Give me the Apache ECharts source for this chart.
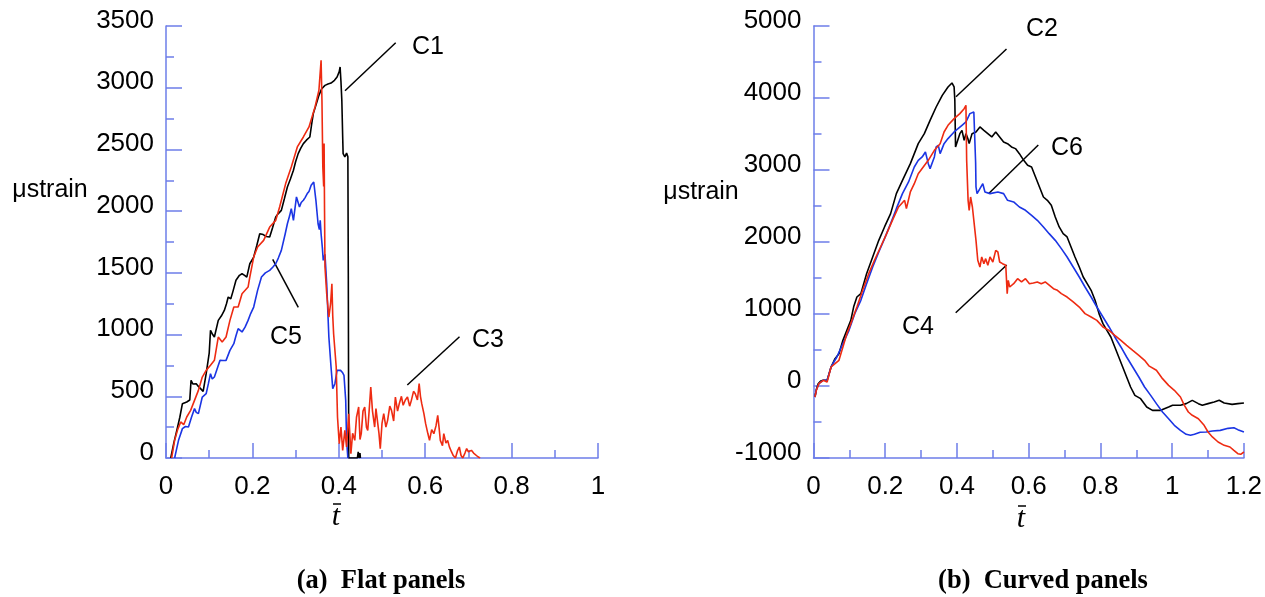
<!DOCTYPE html>
<html>
<head>
<meta charset="utf-8">
<script src="https://cdn.jsdelivr.net/npm/echarts@6/dist/echarts.min.js"></script>
<style>
  html, body { margin: 0; padding: 0; background: #fff; }
  #chart { width: 1265px; height: 597px; }
</style>
</head>
<body>
<div id="chart"></div>
<script>
// 数据: [t, microstrain]
// (a) flat panels
const c1 = [[0.011,0],[0.018,120],[0.025,224],[0.032,330],[0.038,440],[0.048,454],[0.055,470],[0.058,630],[0.062,600],[0.07,602],[0.075,580],[0.08,562],[0.086,540],[0.093,683],[0.1,850],[0.103,1034],[0.108,1000],[0.112,980],[0.121,1115],[0.128,1150],[0.135,1196],[0.14,1250],[0.144,1304],[0.15,1290],[0.155,1350],[0.162,1440],[0.17,1480],[0.176,1493],[0.182,1480],[0.187,1466],[0.194,1574],[0.203,1628],[0.21,1720],[0.217,1817],[0.225,1810],[0.232,1795],[0.24,1790],[0.247,1870],[0.254,1953],[0.26,1980],[0.267,2006],[0.274,2100],[0.281,2196],[0.288,2260],[0.295,2331],[0.3,2400],[0.306,2466],[0.312,2510],[0.318,2547],[0.325,2575],[0.333,2601],[0.337,2700],[0.341,2790],[0.348,2870],[0.354,2938],[0.36,2990],[0.368,3019],[0.375,3030],[0.382,3038],[0.39,3060],[0.396,3087],[0.401,3130],[0.403,3168],[0.405,3050],[0.407,2898],[0.409,2600],[0.41,2466],[0.414,2439],[0.418,2470],[0.421,2440],[0.422,1500],[0.423,0],[0.443,0],[0.445,50],[0.447,0],[0.449,40],[0.45,0]];
const c3 = [[0.013,0],[0.02,143],[0.027,230],[0.034,292],[0.041,270],[0.048,332],[0.057,386],[0.066,467],[0.075,548],[0.084,656],[0.093,710],[0.103,751],[0.112,791],[0.121,980],[0.13,940],[0.139,980],[0.148,1115],[0.157,1223],[0.167,1223],[0.176,1331],[0.19,1385],[0.194,1466],[0.203,1628],[0.212,1709],[0.226,1763],[0.24,1871],[0.254,1925],[0.263,2033],[0.277,2223],[0.29,2358],[0.304,2520],[0.318,2601],[0.331,2682],[0.345,2844],[0.354,2979],[0.359,3222],[0.361,2898],[0.363,2358],[0.365,2200],[0.366,2547],[0.367,2000],[0.368,1547],[0.372,1331],[0.377,1142],[0.381,1250],[0.384,1412],[0.386,1150],[0.388,1007],[0.394,737],[0.397,332],[0.401,116],[0.405,251],[0.409,62],[0.414,224],[0.418,89],[0.423,359],[0.428,35],[0.432,200],[0.437,143],[0.441,330],[0.446,413],[0.449,150],[0.452,197],[0.456,380],[0.46,413],[0.464,250],[0.467,224],[0.471,420],[0.474,575],[0.478,380],[0.483,251],[0.486,400],[0.489,413],[0.493,200],[0.496,76],[0.5,280],[0.504,359],[0.509,250],[0.513,305],[0.518,420],[0.522,386],[0.527,300],[0.531,494],[0.536,380],[0.54,440],[0.545,500],[0.549,427],[0.554,470],[0.559,494],[0.564,420],[0.568,467],[0.573,540],[0.577,521],[0.582,470],[0.586,602],[0.589,500],[0.592,440],[0.597,360],[0.601,278],[0.606,200],[0.61,143],[0.615,230],[0.62,197],[0.625,260],[0.629,346],[0.632,250],[0.635,143],[0.64,100],[0.643,197],[0.648,120],[0.652,143],[0.656,90],[0.661,49],[0.665,20],[0.67,0],[0.675,60],[0.679,89],[0.683,20],[0.687,0],[0.692,40],[0.696,76],[0.7,50],[0.707,62],[0.712,40],[0.716,35],[0.722,10],[0.727,0]];
const c5 = [[0.02,0],[0.025,80],[0.029,143],[0.038,238],[0.045,255],[0.052,251],[0.059,330],[0.066,400],[0.07,370],[0.075,359],[0.084,494],[0.093,521],[0.098,600],[0.103,683],[0.107,640],[0.112,656],[0.12,740],[0.125,791],[0.132,790],[0.139,791],[0.148,872],[0.157,926],[0.162,990],[0.167,1048],[0.176,1021],[0.183,1060],[0.19,1115],[0.196,1170],[0.203,1223],[0.212,1358],[0.221,1466],[0.23,1500],[0.24,1520],[0.247,1545],[0.254,1574],[0.26,1620],[0.267,1682],[0.276,1817],[0.281,1898],[0.286,1960],[0.29,2020],[0.295,1925],[0.302,2115],[0.309,2033],[0.313,2070],[0.318,2088],[0.322,2110],[0.327,2142],[0.331,2160],[0.336,2209],[0.342,2236],[0.347,2088],[0.352,1898],[0.355,1850],[0.357,1925],[0.359,1817],[0.362,1700],[0.364,1601],[0.368,1650],[0.372,1412],[0.377,980],[0.382,737],[0.386,562],[0.391,602],[0.396,710],[0.404,710],[0.409,690],[0.412,670],[0.416,467],[0.418,143],[0.421,0]];

// (b) curved panels
const c2 = [[0.004,-153],[0.008,-50],[0.013,32],[0.02,70],[0.027,79],[0.038,79],[0.044,180],[0.049,264],[0.06,380],[0.071,449],[0.082,634],[0.093,773],[0.104,912],[0.112,1100],[0.121,1236],[0.132,1283],[0.148,1560],[0.165,1792],[0.182,2023],[0.198,2209],[0.215,2394],[0.231,2672],[0.248,2857],[0.27,3088],[0.292,3366],[0.309,3505],[0.325,3690],[0.342,3875],[0.359,4037],[0.375,4153],[0.386,4209],[0.392,4153],[0.394,3968],[0.396,3320],[0.4,3330],[0.408,3505],[0.414,3551],[0.42,3412],[0.425,3505],[0.43,3440],[0.434,3366],[0.442,3505],[0.453,3528],[0.464,3598],[0.475,3551],[0.486,3505],[0.497,3459],[0.508,3528],[0.519,3459],[0.53,3389],[0.541,3366],[0.552,3320],[0.563,3297],[0.574,3227],[0.586,3134],[0.597,3065],[0.608,3042],[0.619,2903],[0.63,2764],[0.641,2625],[0.652,2579],[0.663,2509],[0.674,2347],[0.685,2209],[0.696,2116],[0.707,2070],[0.718,1931],[0.729,1792],[0.741,1653],[0.752,1514],[0.763,1421],[0.774,1329],[0.785,1190],[0.796,1005],[0.807,866],[0.818,773],[0.829,681],[0.84,542],[0.851,403],[0.862,264],[0.873,125],[0.884,-14],[0.896,-130],[0.912,-176],[0.929,-292],[0.945,-338],[0.968,-338],[0.99,-292],[1.001,-268],[1.023,-268],[1.039,-245],[1.056,-199],[1.073,-245],[1.084,-268],[1.1,-245],[1.117,-222],[1.131,-199],[1.145,-236],[1.167,-255],[1.183,-245],[1.2,-236]];
const c6 = [[0.004,-153],[0.008,-50],[0.015,32],[0.027,79],[0.038,79],[0.049,264],[0.065,403],[0.082,588],[0.099,773],[0.115,1005],[0.132,1190],[0.148,1421],[0.165,1653],[0.182,1861],[0.198,2047],[0.215,2255],[0.231,2463],[0.248,2672],[0.265,2834],[0.281,3042],[0.292,3134],[0.303,3181],[0.312,3250],[0.317,3273],[0.32,3088],[0.325,3019],[0.337,3181],[0.342,3320],[0.348,3343],[0.353,3227],[0.364,3366],[0.375,3436],[0.392,3528],[0.403,3574],[0.414,3621],[0.425,3667],[0.436,3783],[0.447,3806],[0.45,3806],[0.452,3100],[0.453,2764],[0.456,2672],[0.464,2741],[0.472,2810],[0.478,2695],[0.492,2672],[0.514,2695],[0.53,2672],[0.541,2579],[0.558,2556],[0.574,2486],[0.591,2440],[0.608,2371],[0.624,2301],[0.641,2209],[0.657,2116],[0.674,2023],[0.691,1908],[0.707,1792],[0.724,1653],[0.741,1514],[0.757,1375],[0.774,1236],[0.79,1097],[0.807,958],[0.824,820],[0.84,681],[0.857,542],[0.873,403],[0.89,264],[0.907,125],[0.923,-14],[0.94,-130],[0.956,-245],[0.973,-361],[0.99,-454],[1.006,-546],[1.023,-616],[1.039,-671],[1.051,-685],[1.062,-671],[1.078,-643],[1.095,-639],[1.112,-625],[1.134,-616],[1.156,-588],[1.172,-579],[1.183,-606],[1.2,-639]];
const c4 = [[0.004,-153],[0.008,-60],[0.015,32],[0.027,79],[0.038,56],[0.049,264],[0.06,310],[0.071,357],[0.082,542],[0.093,727],[0.104,866],[0.121,1097],[0.137,1329],[0.154,1560],[0.17,1746],[0.187,1931],[0.204,2116],[0.22,2301],[0.237,2486],[0.254,2579],[0.259,2463],[0.27,2695],[0.281,2810],[0.292,2949],[0.306,3042],[0.32,3134],[0.337,3273],[0.353,3366],[0.364,3528],[0.375,3621],[0.392,3713],[0.408,3783],[0.42,3852],[0.425,3898],[0.427,3134],[0.431,2579],[0.434,2440],[0.438,2625],[0.443,2486],[0.447,2301],[0.453,2023],[0.458,1746],[0.464,1653],[0.469,1792],[0.475,1699],[0.48,1769],[0.486,1676],[0.492,1792],[0.5,1722],[0.508,1884],[0.514,1861],[0.519,1722],[0.527,1699],[0.536,1676],[0.54,1283],[0.543,1468],[0.547,1375],[0.558,1421],[0.569,1491],[0.58,1445],[0.591,1491],[0.602,1421],[0.613,1430],[0.624,1445],[0.635,1421],[0.646,1445],[0.658,1398],[0.669,1352],[0.68,1329],[0.691,1283],[0.707,1236],[0.724,1167],[0.741,1097],[0.757,1005],[0.774,958],[0.79,912],[0.807,820],[0.824,773],[0.84,704],[0.857,634],[0.873,565],[0.89,495],[0.907,426],[0.923,357],[0.935,280],[0.956,218],[0.973,102],[0.99,9],[1.006,-60],[1.023,-153],[1.034,-268],[1.045,-361],[1.056,-407],[1.073,-454],[1.089,-546],[1.1,-639],[1.112,-708],[1.128,-778],[1.145,-824],[1.161,-847],[1.172,-894],[1.183,-940],[1.191,-949],[1.2,-917]];

const axisBlue = '#6d7ee9';
const black = '#000000';
const blue = '#1b35e4';
const red = '#ee2b12';

let myChart = echarts.init(document.getElementById('chart'), null, { renderer: 'canvas' });

function xAxisCfg(gridIndex, max) {
    return {
        type: 'value', gridIndex: gridIndex, min: 0, max: max, interval: 0.2,
        axisLine: { onZero: false, lineStyle: { color: axisBlue, width: 1.5 } },
        axisTick: { inside: true, length: 15, lineStyle: { color: axisBlue, width: 1.5 } },
        minorTick: { show: true, splitNumber: 2, length: 8, lineStyle: { color: axisBlue, width: 1.5 } },
        splitLine: { show: false },
        axisLabel: { color: '#000', fontSize: 26, fontFamily: 'Liberation Sans', margin: 16 }
    }
}

function yAxisCfg(gridIndex, min, max, interval) {
    return {
        type: 'value', gridIndex: gridIndex, min: min, max: max, interval: interval,
        axisLine: { onZero: false, lineStyle: { color: axisBlue, width: 1.5 } },
        axisTick: { inside: true, length: 16, lineStyle: { color: axisBlue, width: 1.5 } },
        minorTick: { show: true, splitNumber: 2, length: 8, lineStyle: { color: axisBlue, width: 1.5 } },
        splitLine: { show: false },
        axisLabel: {
            color: '#000', fontSize: 26, fontFamily: 'Liberation Sans', margin: 12,
            verticalAlign: 'bottom', lineHeight: 11,
            formatter: function (v) { return String(v) }
        }
    }
}

function lineSeries(name, data, color, idx) {
    return {
        name: name, type: 'line', data: data, xAxisIndex: idx, yAxisIndex: idx,
        showSymbol: false, symbol: 'none', animation: false, clip: true,
        lineStyle: { color: color, width: 1.6 }
    }
}

function label(text, x, y, size) {
    return { type: 'text', x: x, y: y, style: { text: text, fill: '#000', font: (size || 25) + 'px "Liberation Sans"', textAlign: 'center', textVerticalAlign: 'middle' } }
}

function leader(x1, y1, x2, y2) {
    return { type: 'line', shape: { x1: x1, y1: y1, x2: x2, y2: y2 }, style: { stroke: '#000', lineWidth: 1.5 } }
}

function tbar(x, y) {
    // t 加横线
    return [
        { type: 'text', x: x, y: y, style: { text: 't', fill: '#000', font: 'italic 30px "Liberation Serif"', textAlign: 'center', textVerticalAlign: 'middle' } },
        { type: 'line', shape: { x1: x - 3, y1: y - 13, x2: x + 5, y2: y - 13 }, style: { stroke: '#000', lineWidth: 1.5 } }
    ]
}

let option = {
    backgroundColor: '#fff',
    animation: false,
    grid: [
        { left: 166, top: 26, width: 432, height: 432 },
        { left: 813.5, top: 26, width: 432, height: 432 }
    ],
    xAxis: [xAxisCfg(0, 1), xAxisCfg(1, 1.2)],
    yAxis: [yAxisCfg(0, 0, 3500, 500), yAxisCfg(1, -1000, 5000, 1000)],
    series: [
        lineSeries('C1', c1, black, 0),
        lineSeries('C5', c5, blue, 0),
        lineSeries('C3', c3, red, 0),
        lineSeries('C2', c2, black, 1),
        lineSeries('C6', c6, blue, 1),
        lineSeries('C4', c4, red, 1)
    ],
    graphic: [
        label('\u03bcstrain', 50, 190, 25),
        label('\u03bcstrain', 701, 192, 25),
        label('C1', 428, 47),
        label('C5', 286, 337),
        label('C3', 488, 340),
        label('C2', 1042, 29),
        label('C6', 1067, 148),
        label('C4', 918, 327),
        leader(345, 90.7, 395.7, 42.7),
        leader(272.7, 259.3, 298.3, 307.3),
        leader(407.3, 385, 459.5, 336.7),
        leader(956, 96.7, 1006.5, 49),
        leader(989, 193.3, 1038.3, 145),
        leader(955.7, 312.7, 1006.7, 265),
        ...tbar(336, 517),
        ...tbar(1021, 519),
        { type: 'text', x: 381, y: 581, style: { text: '(a)  Flat panels', fill: '#000', font: 'bold 26.5px "Liberation Serif"', textAlign: 'center', textVerticalAlign: 'middle' } },
        { type: 'text', x: 1043, y: 581, style: { text: '(b)  Curved panels', fill: '#000', font: 'bold 26.5px "Liberation Serif"', textAlign: 'center', textVerticalAlign: 'middle' } }
    ]
};

myChart.setOption(option);
</script>
</body>
</html>
